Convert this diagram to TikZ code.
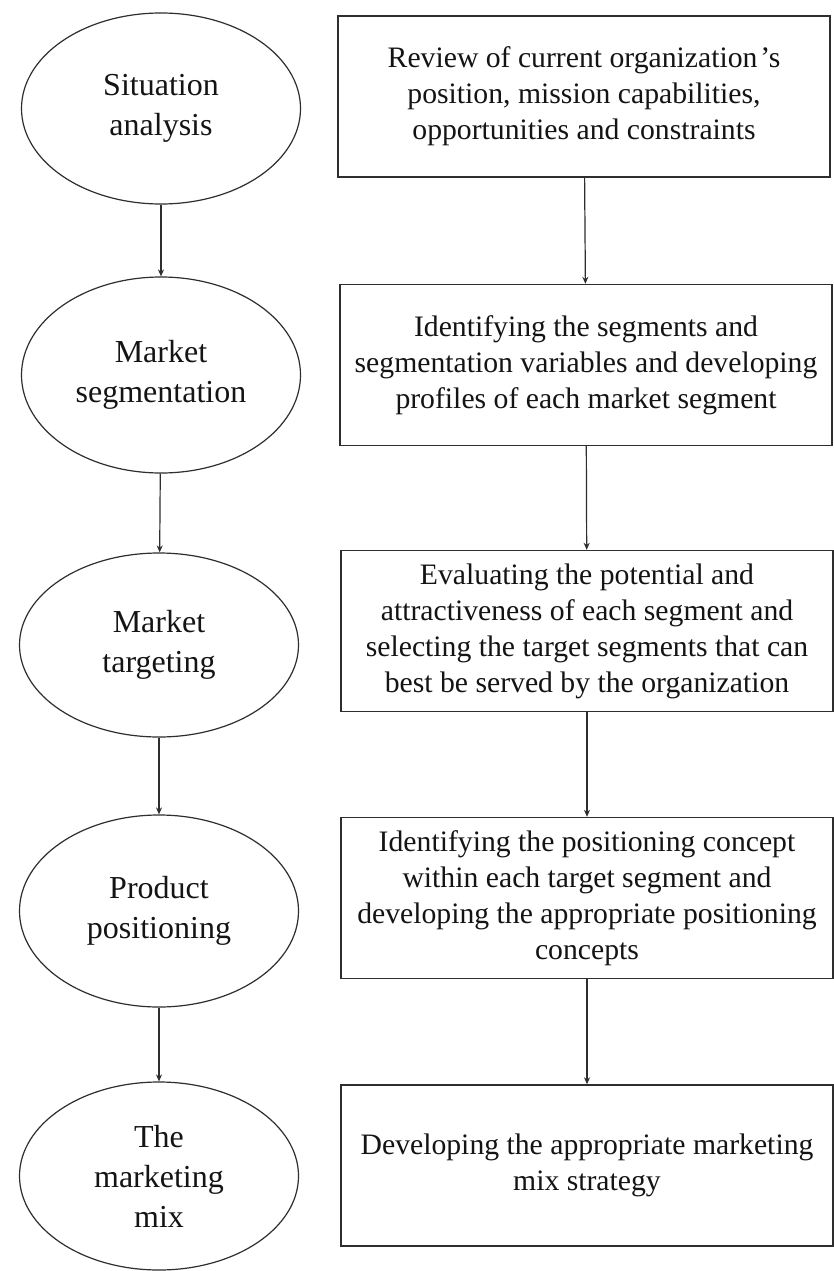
\documentclass[tikz,border=0pt]{standalone}
\usepackage{fontspec}
\setmainfont{Liberation Serif}
\usetikzlibrary{shapes.geometric,arrows.meta}
\definecolor{linegray}{HTML}{2E2E2E}
\definecolor{textdark}{HTML}{141414}
\tikzset{
  stage/.style={ellipse, draw=linegray, line width=1.2pt, minimum width=279pt, minimum height=190pt, inner sep=0pt, align=center, text=textdark, font=\fontsize{32}{40}\selectfont},
  stepbox/.style={rectangle, draw=linegray, line width=1.4pt, minimum width=492pt, minimum height=161pt, inner sep=0pt, align=center, text=textdark, font=\fontsize{29.7}{36}\selectfont},
  arr/.style={draw=linegray, line width=1.2pt, -{Stealth[length=7pt,width=6pt]}}
}
\begin{document}
\begin{tikzpicture}[x=1pt,y=-1pt]
\useasboundingbox[fill=white] (0,0) rectangle (833,1271);
% ellipses
\node[stage, minimum height=191pt] (e1) at (161,108.5) {Situation\\analysis};
\node[stage, minimum height=196pt] (e2) at (161,375) {Market\\segmentation};
\node[stage, minimum height=184pt] (e3) at (159,645) {Market\\targeting};
\node[stage, minimum height=192pt] (e4) at (159,911) {Product\\positioning};
\node[stage, minimum height=188pt] (e5) at (159,1176) {The\\marketing\\mix};
% boxes
\node[stepbox] (b1) at (584,96.5) {Review of current organization\kern3pt’s\\position, mission capabilities,\\opportunities and constraints};
\node[stepbox] (b2) at (586,365) {Identifying the segments and\\segmentation variables and developing\\profiles of each market segment};
\node[stepbox] (b3) at (587,631) {Evaluating the potential and\\attractiveness of each segment and\\selecting the target segments that can\\best be served by the organization};
\node[stepbox] (b4) at (587,898) {Identifying the positioning concept\\within each target segment and\\developing the appropriate positioning\\concepts};
\node[stepbox] (b5) at (587,1165.5) {Developing the appropriate marketing\\mix strategy};
% connectors
\draw[arr] (e1) -- (e2);
\draw[arr] (e2) -- (e3);
\draw[arr] (e3) -- (e4);
\draw[arr] (e4) -- (e5);
\draw[arr] (b1) -- (b2);
\draw[arr] (b2) -- (b3);
\draw[arr] (b3) -- (b4);
\draw[arr] (b4) -- (b5);
\end{tikzpicture}
\end{document}
